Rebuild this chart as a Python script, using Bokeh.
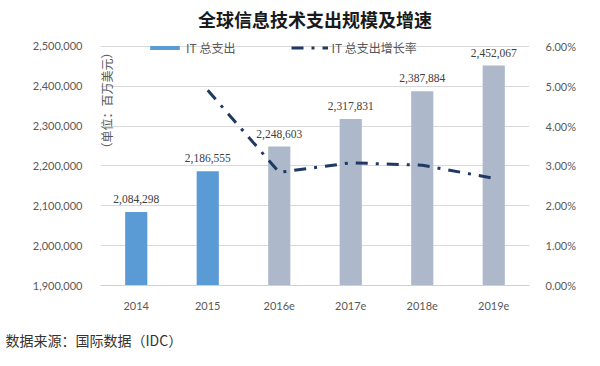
import math
from bokeh.plotting import figure
from bokeh.models import (ColumnDataSource, Range1d, LinearAxis, FixedTicker,
                          NumeralTickFormatter, LabelSet, Label, Legend, LegendItem,
                          FactorRange, Title)
from bokeh.embed import file_html
from bokeh.resources import INLINE

# ---- data ----
years = ["2014", "2015", "2016e", "2017e", "2018e", "2019e"]
spending = [2084298, 2186555, 2248603, 2317831, 2387884, 2452067]
growth_years = ["2015", "2016e", "2017e", "2018e", "2019e"]
growth = [0.0490, 0.0284, 0.0308, 0.0302, 0.0269]
bar_colors = ["#5B9BD5", "#5B9BD5", "#ADB9CA", "#ADB9CA", "#ADB9CA", "#ADB9CA"]
left_ticks = [1900000, 2000000, 2100000, 2200000, 2300000, 2400000, 2500000]
right_ticks = [0.0, 0.01, 0.02, 0.03, 0.04, 0.05, 0.06]

title_text = "全球信息技术支出规模及增速"
unit_text = "（单位：百万美元）"
source_text = "数据来源：国际数据（IDC）"
bar_name = "IT 总支出"
line_name = "IT 总支出增长率"

CJK = "Noto Sans CJK SC"
NUM = "Lato"
W, H = 600, 366

# a little head-room above the top gridline so the legend is not clipped
y_top = left_ticks[-1] + 20000
pct_top = right_ticks[-1] + 0.002

p = figure(width=W, height=H, output_backend="svg", toolbar_location=None,
           x_range=FactorRange(*years, range_padding=0),
           y_range=Range1d(left_ticks[0], y_top),
           min_border_left=100, min_border_right=71, min_border_top=38,
           min_border_bottom=81)
p.outline_line_color = None
p.background_fill_color = "white"
p.border_fill_color = "white"

p.extra_y_ranges = {"pct": Range1d(right_ticks[0], pct_top)}

src = ColumnDataSource(dict(x=years, y=spending, color=bar_colors,
                            lbl=[f"{v:,}" for v in spending]))
bars = p.vbar(x="x", top="y", bottom=left_ticks[0], width=0.31, color="color",
              line_color=None, source=src)

lsrc = ColumnDataSource(dict(x=growth_years, y=growth))
ln = p.line(x="x", y="y", source=lsrc, y_range_name="pct", line_color="#1F3864",
            line_width=3, line_dash="12 8 3 8")

labels = LabelSet(x="x", y="y", text="lbl", source=src, text_align="center",
                  text_baseline="alphabetic", y_offset=9, text_font_size="11.5px",
                  text_color="#404040", text_font=NUM)
p.add_layout(labels)

# axes
p.yaxis.ticker = FixedTicker(ticks=left_ticks)
p.yaxis.formatter = NumeralTickFormatter(format="0,0")
ax_r = LinearAxis(y_range_name="pct", ticker=FixedTicker(ticks=right_ticks),
                  formatter=NumeralTickFormatter(format="0.00%"))
p.add_layout(ax_r, "right")

for ax in [p.yaxis[0], ax_r]:
    ax.axis_line_color = None
    ax.major_tick_line_color = None
    ax.minor_tick_line_color = None
    ax.major_label_text_font = NUM
    ax.major_label_text_font_size = "11px"
    ax.major_label_text_color = "#595959"
p.yaxis[0].major_label_standoff = 12
ax_r.major_label_standoff = 10

p.xaxis.axis_line_color = "#D0D0D0"
p.xaxis.major_tick_line_color = None
p.xaxis.minor_tick_line_color = None
p.xaxis.major_label_text_font = NUM
p.xaxis.major_label_text_font_size = "11px"
p.xaxis.major_label_text_color = "#595959"
p.xaxis.major_label_standoff = 10

p.xgrid.grid_line_color = None
p.ygrid.grid_line_color = "#D9D9D9"

# legend
legend = Legend(items=[LegendItem(label=bar_name, renderers=[bars]),
                       LegendItem(label=line_name, renderers=[ln])],
                orientation="horizontal", location=(46, 229),
                glyph_width=37, glyph_height=5, label_standoff=3, spacing=56,
                padding=0, margin=0, border_line_color=None,
                background_fill_alpha=0, label_text_font=CJK,
                label_text_font_size="12px", label_text_color="#595959")
p.add_layout(legend, "center")

# title and source
p.title = Title(text=title_text, align="center", vertical_align="top",
                text_font=CJK, text_font_size="18px", text_font_style="bold",
                text_color="#1A1A1A", standoff=10)
p.add_layout(Title(text=source_text, align="left", offset=-95, standoff=31,
                   text_font=CJK, text_font_size="14px", text_font_style="normal",
                   text_color="#333333"), "below")

# unit label
p.add_layout(Label(x=106, y=100, x_units="canvas", y_units="canvas", text=unit_text,
                   angle=math.pi / 2, text_align="center", text_baseline="middle",
                   text_font=CJK, text_font_size="12px", text_color="#595959"))

open("out.html", "w").write(file_html(p, INLINE))
